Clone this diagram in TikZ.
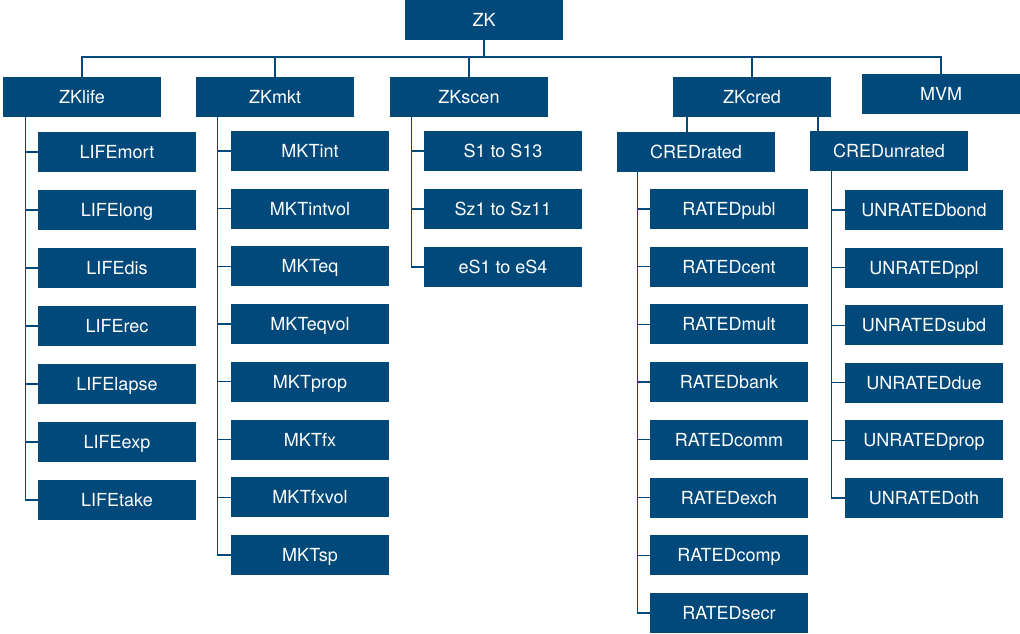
\documentclass[tikz,border=0pt]{standalone}
\usepackage{fontspec}
\setmainfont{TeX Gyre Heros}
\usetikzlibrary{calc}
\definecolor{zkblue}{RGB}{0,73,122}
\tikzset{
  box/.style  = {fill=zkblue, text=white, minimum width=158pt, minimum height=40pt,
                 inner sep=0pt, text height=13pt, text depth=0pt,
                 font=\fontsize{18}{20}\selectfont},
  wire/.style = {draw=zkblue, line width=1.3pt},
}

\begin{document}
\begin{tikzpicture}[x=1pt,y=-1pt]
  \useasboundingbox (0,0) rectangle (1020,634);
  \coordinate (bus) at (0,57);
  % top two levels
  \node[box] (zk)   at (484,20) {ZK};
  \node[box] (life) at (82,97)  {ZKlife};
  \node[box] (mkt)  at (275,97) {ZKmkt};
  \node[box] (scen) at (469,97) {ZKscen};
  \node[box] (cred) at (752,97) {ZKcred};
  \node[box] (mvm)  at (941,94) {MVM};
  \foreach \n in {life,mkt,scen,cred,mvm}
    \draw[wire] (zk.south) -- (zk.south |- bus) -| (\n.north);
  % credit split
  \node[box] (rated)   at (696,152) {CREDrated};
  \node[box] (unrated) at (889,151) {CREDunrated};
  \draw[wire] ([xshift=-65pt]cred.south) -- ([xshift=-65pt]cred.south |- rated.north);
  \draw[wire] ([xshift=66pt]cred.south) -- ([xshift=66pt]cred.south |- unrated.north);
  % leaves
  \foreach \t [count=\i] in {LIFEmort,LIFElong,LIFEdis,LIFErec,LIFElapse,LIFEexp,LIFEtake}{
    \node[box] (life-\i) at (117,{94+58*\i}) {\t};
    \draw[wire] ([xshift=23pt]life.south west) |- (life-\i.west);
  }
  \foreach \t [count=\i] in {MKTint,MKTintvol,MKTeq,MKTeqvol,MKTprop,MKTfx,MKTfxvol,MKTsp}{
    \node[box] (mkt-\i) at (310,{93.3+57.7*\i}) {\t};
    \draw[wire] ([xshift=22pt]mkt.south west) |- (mkt-\i.west);
  }
  \foreach \t [count=\i] in {S1 to S13,Sz1 to Sz11,eS1 to eS4}{
    \node[box] (scen-\i) at (503,{93+58*\i}) {\t};
    \draw[wire] ([xshift=22pt]scen.south west) |- (scen-\i.west);
  }
  \foreach \t [count=\i] in {RATEDpubl,RATEDcent,RATEDmult,RATEDbank,RATEDcomm,RATEDexch,RATEDcomp,RATEDsecr}{
    \node[box] (rated-\i) at (729,{151.3+57.7*\i}) {\t};
    \draw[wire] ([xshift=21pt]rated.south west) |- (rated-\i.west);
  }
  \foreach \t [count=\i] in {UNRATEDbond,UNRATEDppl,UNRATEDsubd,UNRATEDdue,UNRATEDprop,UNRATEDoth}{
    \node[box] (unrated-\i) at (924,{152.4+57.6*\i}) {\t};
    \draw[wire] ([xshift=22pt]unrated.south west) |- (unrated-\i.west);
  }
\end{tikzpicture}
\end{document}
